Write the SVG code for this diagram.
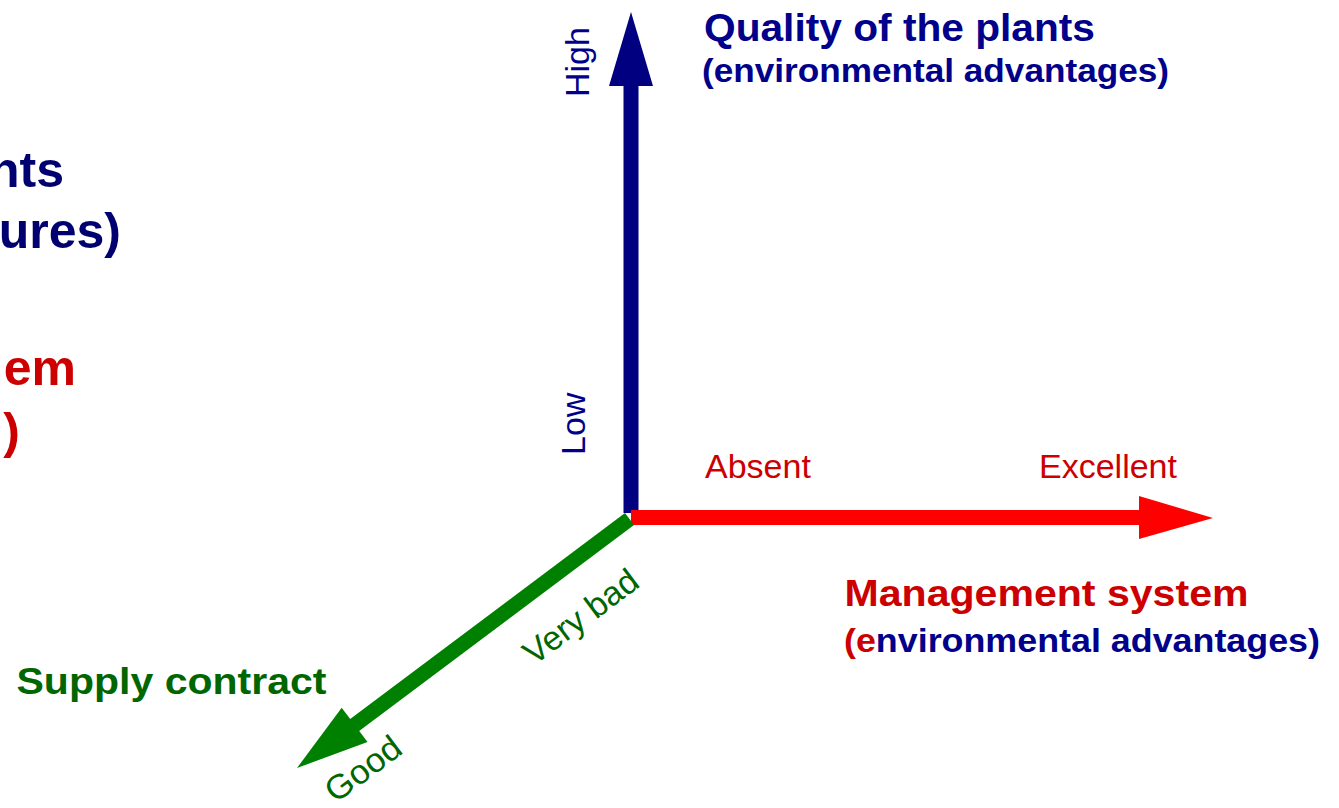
<svg xmlns="http://www.w3.org/2000/svg" width="1339" height="808" viewBox="0 0 1339 808">
<style>
text{font-family:"Liberation Sans",Arial,sans-serif}
.b{font-weight:bold}
.navy{fill:#00008b}
.dnavy{fill:#000070}
.red{fill:#cc0000}
.grn{fill:#006600}
.lbl{font-size:34px}
</style>
<rect width="1339" height="808" fill="#ffffff"/>
<g id="connectors">
  <g id="axis-quality">
    <rect x="623.5" y="84" width="15" height="429" fill="#000080"/>
    <polygon points="631,12 609,86 653,86" fill="#000080"/>
  </g>
  <g id="axis-management">
    <rect x="631" y="510" width="510" height="15" fill="#ff0000"/>
    <polygon points="1139,496 1213,518 1139,539" fill="#ff0000"/>
  </g>
  <g id="axis-supply">
    <line x1="629.5" y1="519" x2="350" y2="728.5" stroke="#008000" stroke-width="15"/>
    <polygon points="297,768 341.7,707.7 367.5,742.1" fill="#008000"/>
  </g>
</g>
<g id="node-left-fragments">
  <text class="b dnavy" x="64" y="187" font-size="50" text-anchor="end">nts</text>
  <text class="b dnavy" x="121" y="248" font-size="50" text-anchor="end">ures)</text>
  <text class="b red" x="76" y="385" font-size="50" text-anchor="end">em</text>
  <text class="b red" x="20" y="448" font-size="50" text-anchor="end">)</text>
</g>
<g id="node-quality">
  <text class="b navy" x="704" y="41" font-size="38.5" textLength="391" lengthAdjust="spacingAndGlyphs">Quality of the plants</text>
  <text class="b navy" x="702" y="82" font-size="33" textLength="467" lengthAdjust="spacingAndGlyphs">(environmental advantages)</text>
  <text class="navy lbl" transform="translate(589,97) rotate(-90)" font-size="33">High</text>
  <text class="navy lbl" transform="translate(585,455) rotate(-90)">Low</text>
</g>
<g id="node-management">
  <text class="b red" x="844.5" y="606" font-size="37" textLength="404" lengthAdjust="spacingAndGlyphs">Management system</text>
  <text class="b navy" x="844" y="652" font-size="33" textLength="476" lengthAdjust="spacingAndGlyphs"><tspan class="red">(e</tspan>nvironmental advantages)</text>
  <text class="red lbl" x="705" y="478">Absent</text>
  <text class="red lbl" x="1039" y="478">Excellent</text>
</g>
<g id="node-supply">
  <text class="b grn" x="16.5" y="694" font-size="37" textLength="310" lengthAdjust="spacingAndGlyphs">Supply contract</text>
  <text class="grn lbl" transform="translate(534,666) rotate(-36.8)" textLength="134" lengthAdjust="spacingAndGlyphs">Very bad</text>
  <text class="grn lbl" transform="translate(335.6,803.8) rotate(-36.8)" textLength="86" lengthAdjust="spacingAndGlyphs">Good</text>
</g>
</svg>
